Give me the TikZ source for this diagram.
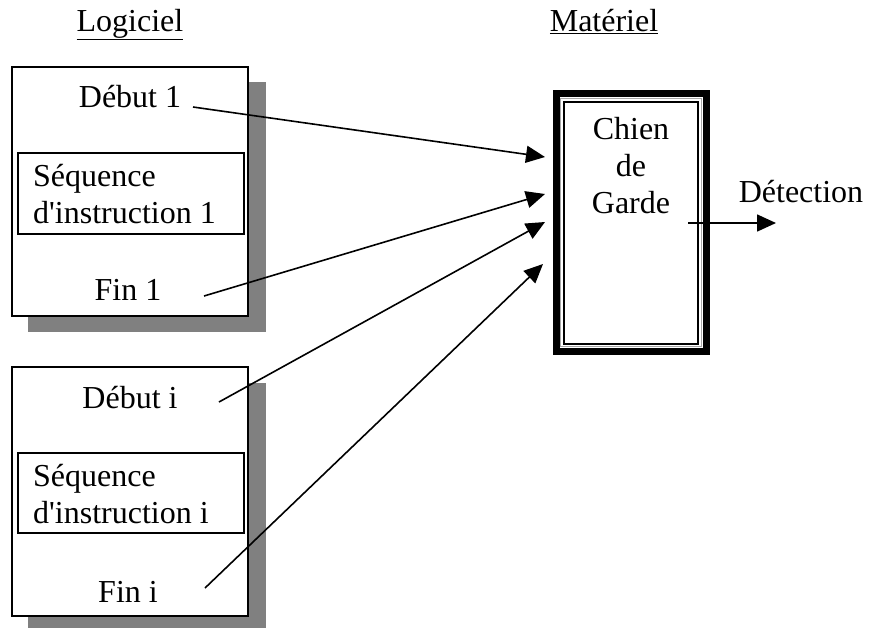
\documentclass[tikz,border=0pt]{standalone}
\usepackage{fontspec}
\setmainfont{Liberation Serif}[Ligatures=TeXOff]
\usetikzlibrary{arrows.meta}

\tikzset{
  txt/.style={inner sep=0pt, anchor=base, font=\fontsize{32}{37}\selectfont},
  ombre/.style={fill=black!50, draw=none},
  cadre/.style={draw, fill=white, line width=1.5pt},
  seqbox/.style={draw, line width=2pt},
  fleche/.style={line width=1.6pt, -{Triangle[length=19pt,width=17pt]}}
}

\begin{document}
\begin{tikzpicture}[x=1pt,y=-1pt]
  \useasboundingbox (0,0) rectangle (880,630);
  % titres
  \node[txt] (log) at (130,31) {\underline{Logiciel}};
  \node[txt] (mat) at (604,31) {\underline{Matériel}};
  % bloc 1
  \fill[ombre] (28,82) rectangle (266,332);
  \draw[cadre] (12,67) rectangle (248,316);
  \draw[seqbox] (18,153) rectangle (244,234);
  \node[txt] (deb1) at (130,107) {Début 1};
  % (base = derniere ligne)
  \node[txt, anchor=base west, align=left] (seq1) at (33,223) {Séquence\\d'instruction 1};
  \node[txt] (fin1) at (128,300) {Fin 1};
  % bloc i
  \fill[ombre] (28,383) rectangle (266,628);
  \draw[cadre] (12,367) rectangle (248,616);
  \draw[seqbox] (18,453) rectangle (244,533);
  \node[txt] (debi) at (130,408) {Début i};
  \node[txt, anchor=base west, align=left] (seqi) at (33,523) {Séquence\\d'instruction i};
  \node[txt] (fini) at (128,602) {Fin i};
  % chien de garde
  \draw[line width=7pt] (556.5,93.5) rectangle (706.5,351.5);
  \draw[black!35, line width=1pt] (560,98.5) rectangle (701.5,346.5);
  \draw[line width=2pt] (564,102) rectangle (698,344);
  \node[txt, align=center] (chien) at (631,213) {Chien\\de\\Garde};
  \node[txt] (det) at (801,202) {Détection};
  % liaisons
  \coordinate (d1) at (193,107);
  \coordinate (f1) at (204,296);
  \coordinate (di) at (219,402);
  \coordinate (fi) at (205,588);
  \coordinate (e1) at (545,157);
  \coordinate (e2) at (545,194);
  \coordinate (e3) at (545,222);
  \coordinate (e4) at (543,264);
  \coordinate (s) at (688,223);
  \coordinate (sd) at (776,223);
  \draw[fleche] (d1) -- (e1);
  \draw[fleche] (f1) -- (e2);
  \draw[fleche] (di) -- (e3);
  \draw[fleche] (fi) -- (e4);
  \draw[fleche] (s) -- (sd);
\end{tikzpicture}
\end{document}
